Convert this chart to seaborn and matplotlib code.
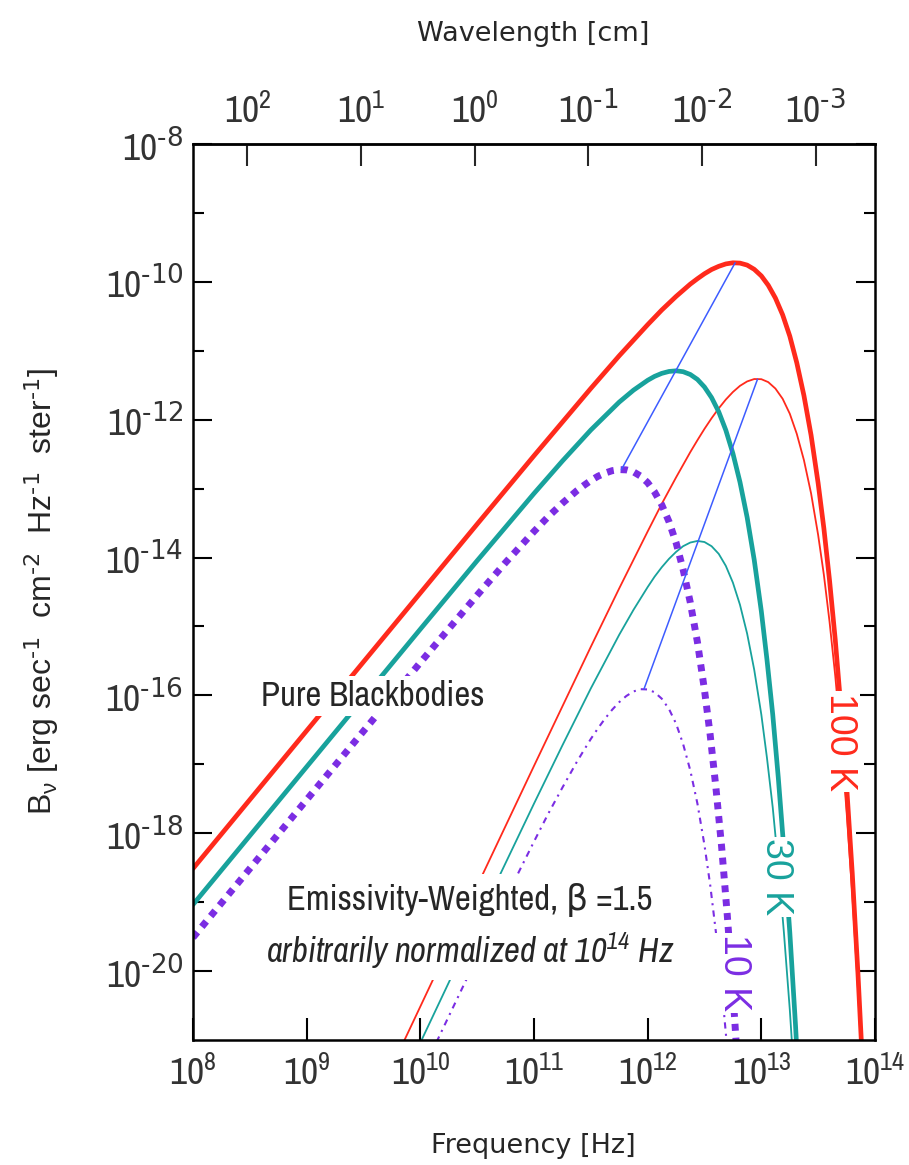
import numpy as np
import pandas as pd
import matplotlib
matplotlib.use('Agg')
import matplotlib.pyplot as plt
from matplotlib import font_manager
from matplotlib.ticker import NullLocator, NullFormatter
import seaborn as sns

np.seterr(divide='ignore', invalid='ignore')

# ---- data (freq in Hz, B_nu in erg s^-1 cm^-2 Hz^-1 ster^-1) ----
# pure blackbodies
freq_100 = [1e8, 1e9, 1e10, 3.16e10, 1e11, 3.16e11, 5.62e11, 1e12, 1.33e12, 1.78e12,
            2.37e12, 2.74e12, 3.16e12, 3.65e12, 4.22e12, 4.87e12, 5.62e12, 6.49e12,
            7.50e12, 8.66e12, 1e13, 1.15e13, 1.33e13, 1.54e13, 1.78e13, 2.05e13,
            2.37e13, 2.74e13, 3.16e13, 3.55e13, 3.98e13, 4.47e13, 5.01e13, 5.62e13,
            6.31e13, 7.08e13, 7.94e13]
bb_100 = [3.07e-19, 3.07e-17, 3.06e-15, 3.05e-14, 3.00e-13, 2.84e-12, 8.46e-12, 2.39e-11,
          3.90e-11, 6.15e-11, 9.27e-11, 1.11e-10, 1.31e-10, 1.51e-10, 1.68e-10, 1.82e-10,
          1.89e-10, 1.87e-10, 1.75e-10, 1.52e-10, 1.22e-10, 8.93e-11, 5.82e-11, 3.32e-11,
          1.63e-11, 6.70e-12, 2.24e-12, 5.94e-13, 1.20e-13, 2.65e-14, 4.69e-15, 6.44e-16,
          6.65e-17, 4.99e-18, 2.62e-19, 9.2e-21, 2.1e-22]

freq_30 = [1e8, 1e9, 1e10, 3.16e10, 1e11, 1.78e11, 3.16e11, 5.62e11, 7.50e11, 1e12,
           1.15e12, 1.33e12, 1.54e12, 1.78e12, 2.05e12, 2.37e12, 2.74e12, 3.16e12,
           3.65e12, 4.22e12, 4.87e12, 5.62e12, 6.49e12, 7.50e12, 8.66e12, 1e13,
           1.12e13, 1.26e13, 1.41e13, 1.58e13, 1.78e13, 2.00e13, 2.24e13]
bb_30 = [9.21e-20, 9.2e-18, 9.14e-16, 8.99e-15, 8.50e-14, 2.52e-13, 7.08e-13, 1.80e-12,
         2.68e-12, 3.73e-12, 4.25e-12, 4.70e-12, 5.01e-12, 5.12e-12, 4.97e-12, 4.53e-12,
         3.84e-12, 2.98e-12, 2.09e-12, 1.30e-12, 7.05e-13, 3.25e-13, 1.24e-13, 3.83e-14,
         9.23e-15, 1.66e-15, 3.34e-16, 5.27e-17, 6.39e-18, 5.74e-19, 3.66e-20, 1.61e-21,
         4.7e-23]

freq_10 = [1e8, 1e9, 1e10, 3.16e10, 5.62e10, 1e11, 1.33e11, 1.78e11, 2.37e11, 2.74e11,
           3.16e11, 3.65e11, 4.22e11, 4.87e11, 5.62e11, 6.49e11, 7.50e11, 8.66e11, 1e12,
           1.15e12, 1.33e12, 1.54e12, 1.78e12, 2.05e12, 2.37e12, 2.74e12, 3.16e12,
           3.55e12, 3.98e12, 4.47e12, 5.01e12, 5.62e12, 6.31e12]
bb_10 = [3.07e-20, 3.06e-18, 3.00e-16, 2.84e-15, 8.46e-15, 2.39e-14, 3.90e-14, 6.15e-14,
         9.27e-14, 1.11e-13, 1.31e-13, 1.51e-13, 1.68e-13, 1.82e-13, 1.89e-13, 1.87e-13,
         1.75e-13, 1.52e-13, 1.22e-13, 8.93e-14, 5.82e-14, 3.32e-14, 1.63e-14, 6.70e-15,
         2.24e-15, 5.94e-16, 1.20e-16, 2.65e-17, 4.69e-18, 6.44e-19, 6.65e-20, 4.99e-21,
         2.62e-22]

# emissivity-weighted (beta = 1.5), normalized at 1e14 Hz
freq_ew_100 = [5.62e9, 1e10, 3.16e10, 1e11, 3.16e11, 5.62e11, 1e12, 1.33e12, 1.78e12,
               2.37e12, 2.74e12, 3.16e12, 3.65e12, 4.22e12, 4.87e12, 5.62e12, 6.49e12,
               7.50e12, 8.66e12, 1e13, 1.15e13, 1.33e13, 1.54e13, 1.78e13, 2.05e13,
               2.37e13, 2.74e13, 3.16e13, 3.55e13, 3.98e13, 4.47e13, 5.01e13, 5.62e13,
               6.31e13, 7.08e13, 7.94e13]
ew_100 = [4.09e-22, 3.06e-21, 1.71e-19, 9.48e-18, 5.06e-16, 3.57e-15, 2.39e-14, 6.01e-14,
          1.46e-13, 3.38e-13, 5.04e-13, 7.36e-13, 1.05e-12, 1.46e-12, 1.96e-12, 2.52e-12,
          3.10e-12, 3.59e-12, 3.89e-12, 3.87e-12, 3.51e-12, 2.83e-12, 2.01e-12, 1.22e-12,
          6.24e-13, 2.59e-13, 8.51e-14, 2.13e-14, 5.61e-15, 1.18e-15, 1.92e-16, 2.36e-17,
          2.10e-18, 1.31e-19, 5.5e-21, 1.4e-22]

freq_ew_30 = [5.62e9, 1e10, 3.16e10, 1e11, 1.78e11, 3.16e11, 5.62e11, 7.50e11, 1e12,
              1.15e12, 1.33e12, 1.54e12, 1.78e12, 2.05e12, 2.37e12, 2.74e12, 3.16e12,
              3.65e12, 4.22e12, 4.87e12, 5.62e12, 6.49e12, 7.50e12, 8.66e12, 1e13,
              1.12e13, 1.26e13, 1.41e13, 1.58e13, 1.78e13, 2.00e13]
ew_30 = [1.23e-22, 9.14e-22, 5.06e-20, 2.69e-18, 1.89e-17, 1.26e-16, 7.58e-16, 1.74e-15,
         3.73e-15, 5.27e-15, 7.23e-15, 9.57e-15, 1.21e-14, 1.46e-14, 1.65e-14, 1.74e-14,
         1.68e-14, 1.46e-14, 1.13e-14, 7.57e-15, 4.33e-15, 2.06e-15, 7.87e-16, 2.35e-16,
         5.26e-17, 1.25e-17, 2.36e-18, 3.39e-19, 3.62e-20, 2.75e-21, 1.43e-22]

freq_ew_10 = [1e10, 1.78e10, 3.16e10, 5.62e10, 1e11, 1.33e11, 1.78e11, 2.37e11, 2.74e11,
              3.16e11, 3.65e11, 4.22e11, 4.87e11, 5.62e11, 6.49e11, 7.50e11, 8.66e11,
              1e12, 1.15e12, 1.33e12, 1.54e12, 1.78e12, 2.05e12, 2.37e12, 2.74e12,
              3.16e12, 3.55e12, 3.98e12, 4.47e12, 5.01e12]
ew_10 = [3.0e-22, 2.21e-21, 1.60e-20, 1.13e-19, 7.57e-19, 1.90e-18, 4.61e-18, 1.07e-17,
         1.59e-17, 2.33e-17, 3.32e-17, 4.61e-17, 6.19e-17, 7.98e-17, 9.80e-17, 1.14e-16,
         1.23e-16, 1.22e-16, 1.11e-16, 8.96e-17, 6.35e-17, 3.87e-17, 1.97e-17, 8.19e-18,
         2.69e-18, 6.73e-19, 1.77e-19, 3.72e-20, 6.08e-21, 7.46e-22]

# peak loci (blue lines)
peak_freq_bb = [5.88e11, 5.88e12]
peak_B_bb = [1.89e-13, 1.89e-10]
peak_freq_ew = [9.27e11, 9.27e12]
peak_B_ew = [1.23e-16, 3.89e-12]

# axes ticks (hyphen instead of a wide minus sign, as in the original)
freq_ticks = [1e8, 1e9, 1e10, 1e11, 1e12, 1e13, 1e14]
freq_labels = ['$10^{%d}$' % e for e in range(8, 15)]
b_ticks = [10.0 ** e for e in range(-20, -7, 2)]
b_labels = ['$10^{\\text{-%d}}$' % -e for e in range(-20, -7, 2)]
b_minor = [10.0 ** e for e in range(-19, -8, 2)]
wl_ticks = [1e2, 1e1, 1e0, 1e-1, 1e-2, 1e-3]
wl_labels = ['$10^{2}$', '$10^{1}$', '$10^{0}$', '$10^{\\text{-1}}$', '$10^{\\text{-2}}$',
             '$10^{\\text{-3}}$']

red = '#ff2a1c'
teal = '#18a29c'
purple = '#7b2de3'
blue = '#3d5cff'

# ---- style ----
sns.set_style('ticks')
names = {f.name for f in font_manager.fontManager.ttflist}
narrow = 'Liberation Sans'
for cand in ['Liberation Sans Narrow', 'Archivo Narrow', 'Roboto Condensed', 'Asap Condensed',
             'Barlow Semi Condensed']:
    if cand in names:
        narrow = cand
        break
plt.rcParams['font.family'] = [narrow, 'DejaVu Sans']
plt.rcParams['mathtext.default'] = 'regular'
wide = ['Liberation Sans', 'DejaVu Sans']

fig = plt.figure(figsize=(9.09, 11.65), dpi=100)
ax = fig.add_axes([193 / 909, 125 / 1165, 682 / 909, 896 / 1165])
ax.set_xscale('log')
ax.set_yscale('log')

curves = [
    (freq_ew_100, ew_100, red, 1.3, '-'),
    (freq_ew_30, ew_30, teal, 1.3, '-'),
    (freq_ew_10, ew_10, purple, 1.5, (0, (3, 2.5, 1, 2.5))),
    (freq_100, bb_100, red, 3.4, '-'),
    (freq_30, bb_30, teal, 3.4, '-'),
    (freq_10, bb_10, purple, 5.0, (0, (1, 1))),
    (peak_freq_bb, peak_B_bb, blue, 1.1, '-'),
    (peak_freq_ew, peak_B_ew, blue, 1.1, '-'),
]
for fx, fy, col, lw, ls in curves:
    df = pd.DataFrame({'freq': fx, 'B': fy})
    sns.lineplot(data=df, x='freq', y='B', ax=ax, color=col, linewidth=lw,
                 linestyle=ls, estimator=None, sort=False)

ax.set_xlim(1e8, 1e14)
ax.set_ylim(1e-21, 1e-8)
ax.set_xlabel('')
ax.set_ylabel('')

ax.set_xticks(freq_ticks)
ax.set_xticklabels(freq_labels)
ax.xaxis.set_minor_locator(NullLocator())
ax.set_yticks(b_ticks)
ax.set_yticklabels(b_labels)
ax.set_yticks(b_minor, minor=True)
ax.yaxis.set_minor_formatter(NullFormatter())

ax.tick_params(axis='both', which='both', direction='in', width=1.5, color='black')
ax.tick_params(axis='x', which='major', length=16, top=False, labelsize=27, pad=11,
               labelcolor='#333333')
ax.tick_params(axis='y', which='major', length=14, right=True, labelsize=27, pad=7,
               labelcolor='#333333')
ax.tick_params(axis='y', which='minor', length=8, right=True)
for sp in ax.spines.values():
    sp.set_linewidth(1.8)
    sp.set_color('black')

# wavelength axis on top
secax = ax.secondary_xaxis('top', functions=(lambda v: 2.998e10 / np.asarray(v, float),
                                              lambda v: 2.998e10 / np.asarray(v, float)))
secax.set_xticks(wl_ticks)
secax.set_xticklabels(wl_labels)
secax.xaxis.set_minor_locator(NullLocator())
secax.tick_params(axis='x', direction='in', length=16, width=1.5, labelsize=27, pad=11,
                  labelcolor='#333333')
secax.spines['top'].set_linewidth(1.8)

# annotations
box = dict(facecolor='white', edgecolor='none', pad=3)
ax.text(0.264, 0.384, 'Pure Blackbodies', transform=ax.transAxes, ha='center', va='center',
        fontsize=25, bbox=box)
ax.text(0.406, 0.156, 'Emissivity-Weighted, β =1.5', transform=ax.transAxes, ha='center',
        va='center', fontsize=25, bbox=dict(facecolor='white', edgecolor='none', pad=7))
ax.text(0.406, 0.100, 'arbitrarily normalized at 10$^{14}$ Hz', transform=ax.transAxes,
        ha='center', va='center', fontsize=25, style='italic',
        bbox=dict(facecolor='white', edgecolor='none', pad=7))
lab_box = dict(facecolor='white', edgecolor='none', pad=1)
ax.text(0.949, 0.333, '100 K', transform=ax.transAxes, rotation=270, ha='center', va='center',
        color=red, fontsize=27, family=wide, bbox=lab_box)
ax.text(0.855, 0.182, '30 K', transform=ax.transAxes, rotation=270, ha='center', va='center',
        color=teal, fontsize=27, family=wide, bbox=lab_box)
ax.text(0.793, 0.075, '10 K', transform=ax.transAxes, rotation=270, ha='center', va='center',
        color=purple, fontsize=27, family=wide, bbox=lab_box)

fig.text(533 / 909, 1 - 34 / 1165, 'Wavelength [cm]', ha='center', va='center',
         fontsize=19.5, family=['DejaVu Sans'])
fig.text(533 / 909, 1 - 1146 / 1165, 'Frequency [Hz]', ha='center', va='center',
         fontsize=19.5, family=['DejaVu Sans'])
fig.text(42 / 909, 1 - 591 / 1165,
         'B$_{ν}$ [erg sec$^{\\text{-1}}$  cm$^{\\text{-2}}$  Hz$^{\\text{-1}}$  ster$^{\\text{-1}}$]',
         rotation=90, ha='center', va='center', fontsize=23, family=wide)

fig.savefig('out.png', dpi=100, facecolor='white')
